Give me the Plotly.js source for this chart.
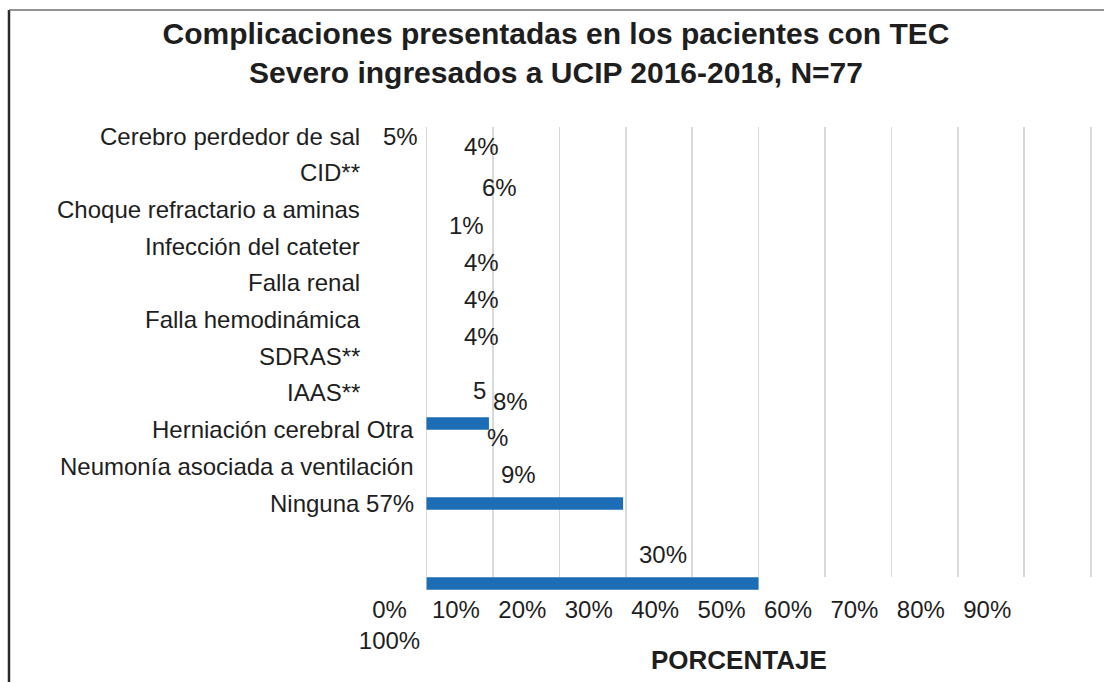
<!DOCTYPE html>
<html>
<head>
<meta charset="utf-8">
<script src="https://cdn.plot.ly/plotly-3.0.1.min.js"></script>
<style>
html,body{margin:0;padding:0;background:#fff;}
#chart{width:1104px;height:682px;}
</style>
</head>
<body>
<div id="chart"></div>
<script>
// ---- data ----
const categoryLabels = ["Cerebro perdedor de sal", "CID**", "Choque refractario a aminas",
  "Infección del cateter", "Falla renal", "Falla hemodinámica", "SDRAS**", "IAAS**",
  "Herniación cerebral Otra", "Neumonía asociada a ventilación", "Ninguna 57%"];
const barCategories = ["Herniación cerebral", "Otra", "Ninguna"];
const barValues = [9.4, 29.6, 50];
const valueLabels = ["5%", "4%", "6%", "1%", "4%", "4%", "4%", "5", "8%", "%", "9%", "30%"];
const tickValues = [0, 10, 20, 30, 40, 50, 60, 70, 80, 90, 100];
const tickLabels = ["0%<br>100%", "10%", "20%", "30%", "40%", "50%", "60%", "70%", "80%", "90%", ""];
const chartTitle = "Complicaciones presentadas en los pacientes con TEC<br>Severo ingresados a UCIP 2016-2018, N=77";
const xTitle = "PORCENTAJE";

// ---- layout helpers (pixel placement of free text) ----
const W = 1104, H = 682;
const px = x => x / W;
const py = y => 1 - y / H;
const FONT = "Liberation Sans, Arial, Helvetica, sans-serif";
const TXT = "#1e1e1e";

// label rows: right edge and vertical centre
const labelRight = [362, 362, 362, 362, 362, 362, 362, 362, 416, 416, 416];
const labelY = [136, 172.7, 209.4, 246.1, 282.8, 319.5, 356.2, 392.9, 429.6, 466.3, 503];
// value label centres
const valuePos = [[400, 136], [481, 146], [499, 188], [466, 226], [481, 262], [481, 299], [481, 336],
  [479, 390], [510, 401], [497, 437], [518, 474], [663, 554]];

const annotations = [];
categoryLabels.forEach((t, i) => annotations.push({
  text: t, xref: "paper", yref: "paper", x: px(labelRight[i]), y: py(labelY[i]),
  xanchor: "right", yanchor: "middle", showarrow: false,
  font: {family: FONT, size: 24, color: TXT}
}));
valueLabels.forEach((t, i) => annotations.push({
  text: t, xref: "paper", yref: "paper", x: px(valuePos[i][0]), y: py(valuePos[i][1]),
  xanchor: "center", yanchor: "middle", showarrow: false,
  font: {family: FONT, size: 24, color: TXT}
}));
annotations.push({
  text: "<b>" + xTitle + "</b>", xref: "paper", yref: "paper", x: px(739), y: py(660),
  xanchor: "center", yanchor: "middle", showarrow: false,
  font: {family: FONT, size: 26, color: TXT}
});

const xDomain = [px(424.5), px(1092.7)];
const xRange = [-0.3, 100.3];

const data = [
  { // carries the percentage axis and its grid
    type: "scatter", mode: "markers", x: [null], y: [null],
    xaxis: "x", yaxis: "y", hoverinfo: "none", showlegend: false
  },
  {
    type: "bar", orientation: "h",
    x: barValues, y: barCategories,
    xaxis: "x2", yaxis: "y2",
    width: 0.156,
    marker: {color: "#1c6db5", line: {width: 0}},
    hoverinfo: "none"
  }
];

const layout = {
  width: W, height: H,
  margin: {l: 0, r: 0, t: 0, b: 0},
  paper_bgcolor: "#ffffff",
  plot_bgcolor: "rgba(0,0,0,0)",
  showlegend: false,
  title: {
    text: "<b>" + chartTitle + "</b>",
    x: px(556), xanchor: "center",
    y: py(44), yanchor: "middle",
    font: {family: FONT, size: 30, color: TXT}
  },
  xaxis: {
    domain: xDomain, range: xRange, anchor: "y",
    tickmode: "array", tickvals: tickValues, ticktext: tickLabels,
    showgrid: true, gridcolor: "#d9d9d9", gridwidth: 1.6,
    zeroline: false, showline: false, ticks: "",
    tickfont: {family: FONT, size: 24, color: TXT},
    ticklabelshift: -37, ticklabelstandoff: 16,
    fixedrange: true
  },
  yaxis: {
    domain: [py(577), py(127)], anchor: "x",
    visible: false, showgrid: false, zeroline: false, range: [0, 1], fixedrange: true
  },
  xaxis2: {
    domain: xDomain, range: xRange, anchor: "y2",
    visible: false, showgrid: false, zeroline: false, fixedrange: true
  },
  yaxis2: {
    domain: [py(600), py(110)], anchor: "x2",
    type: "category", categoryorder: "array", categoryarray: barCategories,
    range: [2.206, -3.919],
    visible: false, showgrid: false, zeroline: false, fixedrange: true
  },
  annotations: annotations,
  shapes: [
    {type: "line", xref: "paper", yref: "paper", x0: px(9), x1: px(9), y0: 0, y1: py(10),
      line: {color: "#2b2b2b", width: 2.5}},
    {type: "line", xref: "paper", yref: "paper", x0: px(9), x1: 1, y0: py(10), y1: py(10),
      line: {color: "#6e6e6e", width: 1.5}}
  ]
};

Plotly.newPlot("chart", data, layout, {staticPlot: true, displayModeBar: false});
</script>
</body>
</html>
